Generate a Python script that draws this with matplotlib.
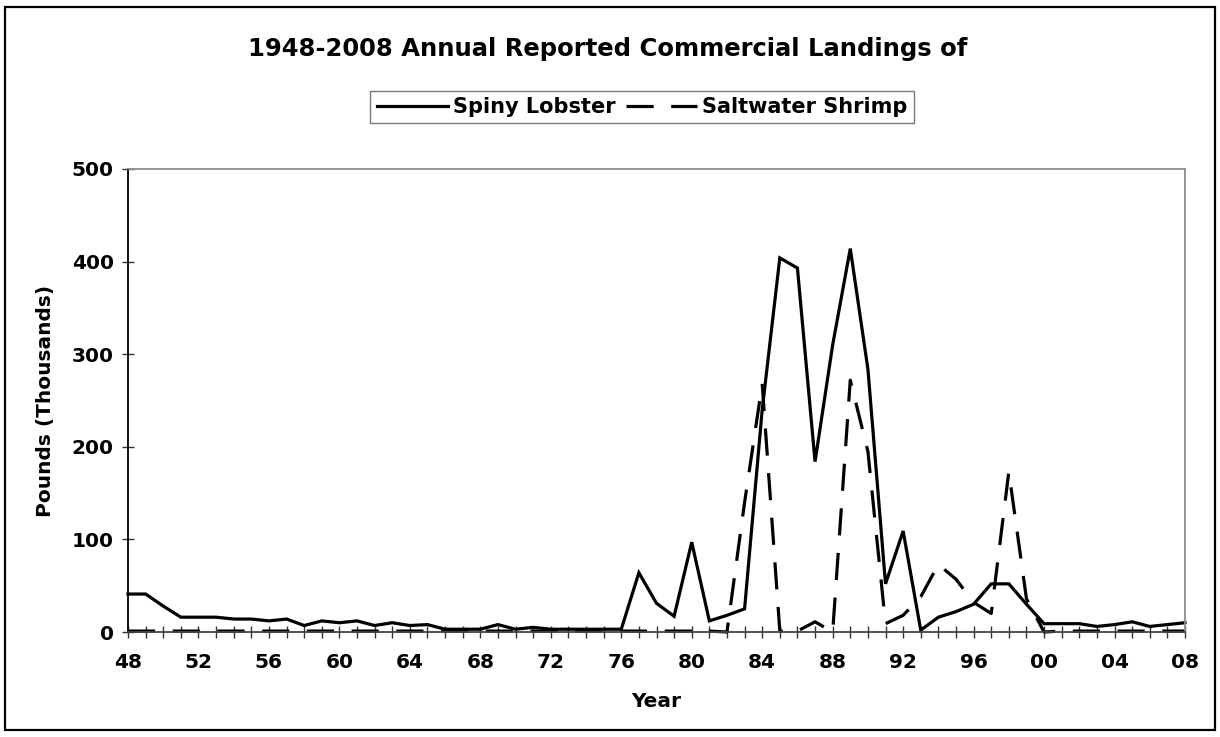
import matplotlib
matplotlib.use("Agg")
import matplotlib.pyplot as plt
from matplotlib.patches import Rectangle

years = list(range(1948, 2009))
tick_years = list(range(1948, 2009, 4))
tick_labels = ["48", "52", "56", "60", "64", "68", "72", "76", "80", "84",
               "88", "92", "96", "00", "04", "08"]

spiny_lobster = [41, 41, 28, 16, 16, 16, 14, 14, 12, 14,   # 48-57
                 7, 12, 10, 12, 7, 10, 7, 8, 3, 3,         # 58-67
                 3, 8, 3, 5, 3, 3, 3, 3, 3, 64,            # 68-77
                 31, 17, 97, 12, 18, 25, 240, 404, 393, 184,  # 78-87
                 310, 414, 284, 52, 109, 2, 16, 22, 30, 52,   # 88-97
                 52, 30, 9, 9, 9, 6, 8, 11, 6, 8,            # 98-07
                 10]                                          # 08

saltwater_shrimp = [1, 1, 1, 1, 1, 1, 1, 1, 1, 1,       # 48-57
                    1, 1, 1, 1, 1, 1, 1, 1, 1, 1,       # 58-67
                    1, 1, 1, 1, 1, 1, 1, 1, 1, 1,       # 68-77
                    1, 1, 1, 1, 0, 140, 268, 1, 1, 11,  # 78-87
                    0, 272, 195, 9, 18, 38, 73, 57, 32, 20,  # 88-97
                    173, 36, 0, 1, 1, 1, 1, 1, 1, 1,    # 98-07
                    1]                                   # 08

FONT = "DejaVu Sans"
plt.rcParams['font.family'] = [FONT]

fig = plt.figure(figsize=(12.2, 7.37), dpi=100)
fig.patch.set_facecolor("white")

# figure border
fig.patches.append(Rectangle((5 / 1220, 7 / 737), 1210 / 1220, 723 / 737,
                             transform=fig.transFigure, fill=False,
                             edgecolor="black", linewidth=1.6))

ax = fig.add_axes([128 / 1220, 1 - 632 / 737, (1185 - 128) / 1220, (632 - 169) / 737])

ax.plot(years, spiny_lobster, color="black", linewidth=2.3,
        solid_joinstyle="miter", label="Spiny Lobster", clip_on=False)
ax.plot(years, saltwater_shrimp, color="black", linewidth=2.3,
        dashes=(8.5, 5.5), label="Saltwater Shrimp", clip_on=False)

ax.set_xlim(1948, 2008)
ax.set_ylim(0, 500)
ax.set_xticks(tick_years)
ax.set_xticklabels(tick_labels)
ax.set_xticks(years, minor=True)
ax.set_yticks([0, 100, 200, 300, 400, 500])

for lab in ax.get_xticklabels() + ax.get_yticklabels():
    lab.set_fontweight("bold")
    lab.set_fontsize(14.5)

ax.tick_params(axis="both", which="both", direction="inout", length=8.5,
               width=1.0, color="#333333")
ax.tick_params(axis="x", which="major", pad=11)
ax.tick_params(axis="y", which="major", pad=6)

ax.spines["left"].set_color("black")
ax.spines["bottom"].set_color("#444444")
ax.spines["top"].set_color("#8c8c8c")
ax.spines["right"].set_color("#8c8c8c")
for s in ax.spines.values():
    s.set_linewidth(1.3)

ax.set_xlabel("Year", fontsize=14.5, fontweight="bold", labelpad=14)
ax.set_ylabel("Pounds (Thousands)", fontsize=14.5, fontweight="bold", labelpad=12)

fig.text(608 / 1220, 1 - 49 / 737, "1948-2008 Annual Reported Commercial Landings of",
         ha="center", va="center", fontsize=17.5, fontweight="bold")

leg = fig.legend(loc="center", bbox_to_anchor=(642 / 1220, 1 - 107 / 737),
                 ncol=2, frameon=True, fancybox=False, shadow=False,
                 prop={"weight": "bold", "size": 15},
                 handlelength=3.4, handletextpad=0.25, columnspacing=0.5,
                 borderpad=0.3, borderaxespad=0)
leg.get_frame().set_edgecolor("#555555")
leg.get_frame().set_linewidth(1.0)

fig.savefig("out.png", dpi=100, facecolor="white")
